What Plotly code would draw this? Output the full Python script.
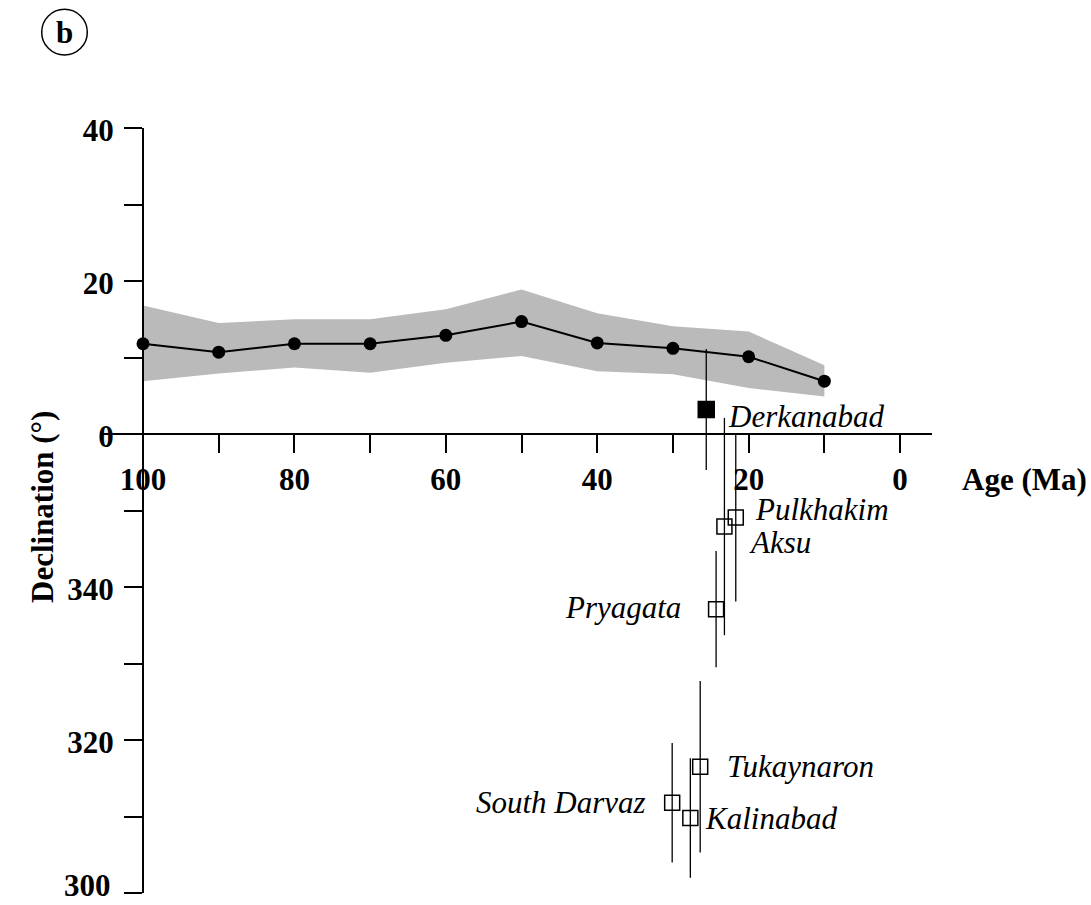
import plotly.graph_objects as go

# Reference (mean) declination path with its confidence envelope
ref_age = [100, 90, 80, 70, 60, 50, 40, 30, 20, 10]
ref_dec = [11.8, 10.7, 11.8, 11.8, 12.9, 14.7, 11.9, 11.2, 10.1, 6.9]
ref_upper = [16.8, 14.5, 15.0, 15.0, 16.3, 18.9, 15.8, 14.1, 13.4, 9.0]
ref_lower = [6.9, 7.9, 8.7, 8.0, 9.3, 10.2, 8.2, 7.8, 6.0, 4.9]

# Site results (declination given as signed degrees: 349 -> -11)
site_names = ["Derkanabad", "Pulkhakim", "Aksu", "Pryagata",
              "Tukaynaron", "South Darvaz", "Kalinabad"]
site_age = [25.6, 21.7, 23.2, 24.3, 26.4, 30.1, 27.7]
site_dec = [3.2, -10.9, -12.1, -22.9, -43.5, -48.2, -50.2]
site_err = [7.9, 11.0, 14.2, 7.6, 11.2, 7.8, 7.8]

# Axis ticks
x_ticks = [100, 90, 80, 70, 60, 50, 40, 30, 20, 10, 0]
x_ticktext = ["100", "", "80", "", "60", "", "40", "", "20", "", "0"]
y_ticks = [-60, -50, -40, -30, -20, -10, 0, 10, 20, 30, 40]
y_ticktext = ["300", "", "320", "", "340", "", "0", "", "20", "", "40"]

W, H = 1091, 905
L, R, T, B = 100, 932, 128, 893
X_RANGE = [105.68, -4.22]
Y_RANGE = [-60, 40]


def xp(px):
    return (px - L) / (R - L)


def yp(py):
    return (B - py) / (B - T)


SERIF = "Liberation Serif, Times New Roman, serif"
FS = 31

fig = go.Figure()

# Envelope
fig.add_trace(go.Scatter(
    x=ref_age, y=ref_upper, mode="lines", line=dict(width=0),
    hoverinfo="skip", showlegend=False))
fig.add_trace(go.Scatter(
    x=ref_age, y=ref_lower, mode="lines", line=dict(width=0),
    fill="tonexty", fillcolor="rgb(186,186,186)",
    hoverinfo="skip", showlegend=False))

# Mean path
fig.add_trace(go.Scatter(
    x=ref_age, y=ref_dec, mode="lines+markers",
    line=dict(color="black", width=2),
    marker=dict(symbol="circle", size=13, color="black"),
    showlegend=False))

# Sites: first one filled, others open
filled = [i == 0 for i in range(len(site_names))]
for i, name in enumerate(site_names):
    fig.add_trace(go.Scatter(
        x=[site_age[i]], y=[site_dec[i]], mode="markers",
        marker=dict(symbol="square" if filled[i] else "square-open",
                    size=16 if filled[i] else 15, color="black",
                    line=dict(width=1.5, color="black")),
        error_y=dict(type="data", array=[site_err[i]], visible=True,
                     color="black", thickness=1.3, width=0),
        name=name, showlegend=False, cliponaxis=False))

# Site label placement (anchor side, pixel shift)
label_pos = {
    "Derkanabad": ("left", 20, -7),
    "Pulkhakim": ("left", 17, 8),
    "Aksu": ("left", 23, -16),
    "Pryagata": ("right", -33, 2),
    "Tukaynaron": ("left", 25, 0),
    "South Darvaz": ("right", -24, 0),
    "Kalinabad": ("left", 13, 0),
}
for i, name in enumerate(site_names):
    anchor, dx, dy = label_pos[name]
    fig.add_annotation(
        x=site_age[i], y=site_dec[i], xref="x", yref="y", text=name,
        showarrow=False, xanchor=anchor, yanchor="middle",
        xshift=dx, yshift=dy,
        font=dict(family=SERIF, size=FS, color="black", style="italic"))

# The lowest y label sits on the figure edge, so it is placed as an
# annotation whose box ends at the bottom of the page.
axis_ytext = [""] + y_ticktext[1:]
fig.add_annotation(
    x=xp(113), y=yp(H), xref="paper", yref="paper",
    text="<b>%s</b>" % y_ticktext[0],
    showarrow=False, xanchor="right", yanchor="bottom",
    font=dict(family=SERIF, size=FS, color="black"))

# Axis titles
fig.add_annotation(
    x=xp(960), y=yp(479), xref="paper", yref="paper", text="<b>Age (Ma)</b>",
    showarrow=False, xanchor="left", yanchor="middle",
    font=dict(family=SERIF, size=FS, color="black"))
fig.add_annotation(
    x=xp(42), y=yp(507), xref="paper", yref="paper",
    text="<b>Declination (°)</b>", textangle=-90,
    showarrow=False, xanchor="center", yanchor="middle",
    font=dict(family=SERIF, size=FS, color="black"))

# Panel letter
fig.add_shape(type="circle", xref="paper", yref="paper",
              x0=xp(41.7), x1=xp(87.3), y0=yp(55), y1=yp(9.3),
              line=dict(color="black", width=1.5))
fig.add_annotation(
    x=xp(64.5), y=yp(32), xref="paper", yref="paper", text="<b>b</b>",
    showarrow=False, xanchor="center", yanchor="middle",
    font=dict(family=SERIF, size=31, color="black"))

x_axis_pos = (0 - Y_RANGE[0]) / (Y_RANGE[1] - Y_RANGE[0])
y_axis_pos = (X_RANGE[0] - 100) / (X_RANGE[0] - X_RANGE[1])

fig.update_layout(
    width=W, height=H,
    margin=dict(l=L, r=W - R, t=T, b=H - B, pad=0),
    paper_bgcolor="white", plot_bgcolor="white",
    xaxis=dict(
        range=X_RANGE, anchor="free", position=x_axis_pos,
        showline=True, linecolor="black", linewidth=2,
        showgrid=False, zeroline=False,
        tickmode="array", tickvals=x_ticks, ticktext=x_ticktext,
        ticks="outside", ticklen=18, tickwidth=2, tickcolor="black",
        ticklabelstandoff=0,
        tickfont=dict(family=SERIF, size=FS, color="black", weight="bold"),
    ),
    yaxis=dict(
        range=Y_RANGE, anchor="free", position=y_axis_pos,
        showline=True, linecolor="black", linewidth=2,
        showgrid=False, zeroline=False,
        tickmode="array", tickvals=y_ticks, ticktext=axis_ytext,
        ticks="outside", ticklen=18, tickwidth=2, tickcolor="black",
        ticklabelstandoff=4, ticklabelshift=2,
        tickfont=dict(family=SERIF, size=FS, color="black", weight="bold"),
    ),
    showlegend=False,
)

fig.write_html("out.html")
